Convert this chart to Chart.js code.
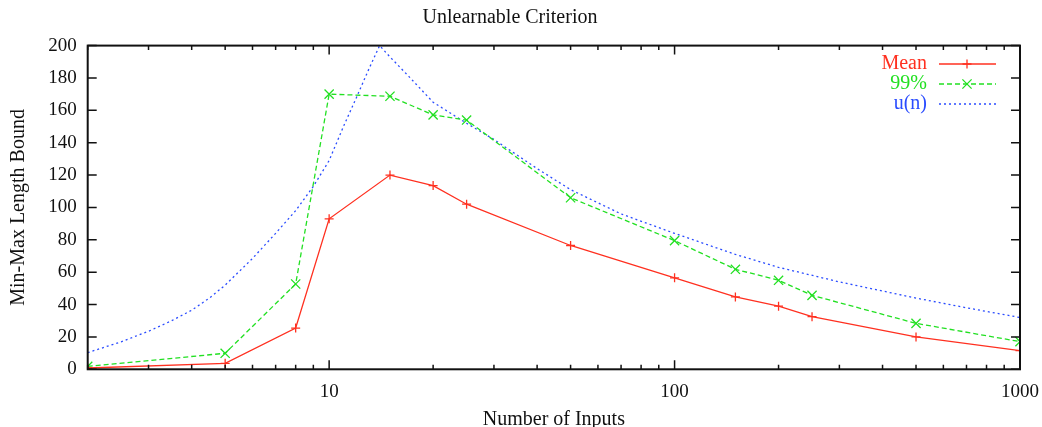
<!DOCTYPE html>
<html>
<head>
<meta charset="utf-8">
<title>Unlearnable Criterion</title>
<script src="https://cdn.jsdelivr.net/npm/chart.js@4.4.0/dist/chart.umd.min.js"></script>
<style>
  html, body { margin: 0; padding: 0; background: #fff; }
  canvas { display: block; }
</style>
</head>
<body>
<canvas id="unlearnableChart" width="1042" height="427"></canvas>
<script>
// number of inputs where the bounds were measured
const inputs = [2, 5, 8, 10, 15, 20, 25, 50, 100, 150, 200, 250, 500, 1000];
const meanBound = [0.8, 3.7, 25.5, 93, 120, 113.5, 102, 76.5, 56.5, 44.7, 39, 32.5, 20, 11.5];
const pct99Bound = [1.8, 9.9, 52.7, 170, 168.7, 157.2, 154, 106, 79.5, 61.8, 55, 45.7, 28.4, 17.1];

// u(n) curve
const uInputs = [2, 2.5, 3, 3.5, 4, 4.5, 5, 6, 7, 8, 9, 10, 11, 12, 13, 14, 15, 17, 20, 25, 30, 40, 50, 70, 100, 150, 200, 300, 500, 700, 1000];
const uBound = [10.3, 17, 23.5, 30, 36.5, 44, 52, 68.5, 84, 98, 113, 129, 150, 168, 185, 200, 193, 181, 165, 152, 142, 124, 111, 96, 84, 71, 63, 54, 44, 38, 32];

const yTicks = [0, 20, 40, 60, 80, 100, 120, 140, 160, 180, 200];
const xTicks = [2, 3, 4, 5, 6, 7, 8, 9, 10, 20, 30, 40, 50, 60, 70, 80, 90, 100,
  200, 300, 400, 500, 600, 700, 800, 900, 1000];
const xLabelled = [10, 100, 1000];

const serif = '"Liberation Serif", "Times New Roman", serif';
Chart.defaults.font.family = serif;
Chart.defaults.color = '#111';

const toPoints = (xs, ys) => xs.map((x, i) => ({ x: x, y: ys[i] }));

// gnuplot style frame with inward ticks on all four sides
const frameTicks = {
  id: 'frameTicks',
  afterDraw(chart) {
    const { ctx, chartArea: a, scales: { x, y } } = chart;
    ctx.save();
    ctx.strokeStyle = '#111';
    ctx.lineWidth = 1.5;
    ctx.beginPath();
    yTicks.forEach(v => {
      const py = y.getPixelForValue(v);
      ctx.moveTo(a.left, py); ctx.lineTo(a.left + 9, py);
      ctx.moveTo(a.right, py); ctx.lineTo(a.right - 9, py);
    });
    xTicks.forEach(v => {
      const px = x.getPixelForValue(v);
      const len = xLabelled.includes(v) ? 9 : 4.5;
      ctx.moveTo(px, a.bottom); ctx.lineTo(px, a.bottom - len);
      ctx.moveTo(px, a.top); ctx.lineTo(px, a.top + len);
    });
    ctx.stroke();
    ctx.lineWidth = 2;
    ctx.strokeRect(a.left, a.top, a.right - a.left, a.bottom - a.top);
    ctx.restore();
  }
};

// key in the top right corner, text on the left of the sample line
const sideLegend = {
  id: 'sideLegend',
  afterDraw(chart) {
    const ctx = chart.ctx;
    const textRight = 927, lineStart = 939, lineEnd = 996;
    ctx.save();
    ctx.font = '20px ' + serif;
    ctx.textAlign = 'right';
    ctx.textBaseline = 'middle';
    chart.data.datasets.forEach((ds, i) => {
      const yy = 64 + i * 20;
      ctx.fillStyle = ds.borderColor;
      ctx.fillText(ds.label, textRight, yy);
      ctx.strokeStyle = ds.borderColor;
      ctx.lineWidth = ds.borderWidth;
      ctx.setLineDash(ds.borderDash || []);
      ctx.beginPath();
      ctx.moveTo(lineStart, yy);
      ctx.lineTo(lineEnd, yy);
      ctx.stroke();
      ctx.setLineDash([]);
      if (ds.pointRadius > 0) {
        Chart.helpers.drawPoint(ctx, {
          pointStyle: ds.pointStyle, radius: ds.pointRadius, rotation: 0, borderWidth: ds.borderWidth
        }, (lineStart + lineEnd) / 2 - 0.5, yy);
      }
    });
    ctx.restore();
  }
};

new Chart(document.getElementById('unlearnableChart'), {
  type: 'line',
  data: {
    datasets: [
      {
        label: 'Mean',
        data: toPoints(inputs, meanBound),
        borderColor: '#ff3020',
        borderWidth: 1.3,
        pointStyle: 'cross',
        pointRadius: 4.5,
        pointBorderWidth: 1.3,
        fill: false,
        tension: 0
      },
      {
        label: '99%',
        data: toPoints(inputs, pct99Bound),
        borderColor: '#22e022',
        borderWidth: 1.3,
        borderDash: [5, 3],
        pointStyle: 'crossRot',
        pointRadius: 6.5,
        pointBorderWidth: 1.3,
        fill: false,
        tension: 0
      },
      {
        label: 'u(n)',
        data: toPoints(uInputs, uBound),
        borderColor: '#2a4cff',
        borderWidth: 1.3,
        borderDash: [2, 3],
        pointRadius: 0,
        fill: false,
        tension: 0
      }
    ]
  },
  options: {
    responsive: false,
    animation: false,
    layout: { padding: { top: 0, right: 22, bottom: 0, left: 0 } },
    plugins: {
      legend: { display: false },
      tooltip: { enabled: false },
      title: {
        display: true,
        text: 'Unlearnable Criterion',
        color: '#111',
        font: { size: 20, weight: 'normal' },
        padding: { top: 6, bottom: 15.6 }
      }
    },
    scales: {
      x: {
        type: 'logarithmic',
        min: 2,
        max: 1000,
        grid: { display: false, drawTicks: false },
        border: { display: false },
        afterBuildTicks: scale => { scale.ticks = xTicks.map(v => ({ value: v })); },
        afterFit: scale => {
          scale.height = 57.7;
          scale.paddingLeft = 0;
          scale.paddingRight = 0;
        },
        ticks: {
          autoSkip: false,
          maxRotation: 0,
          padding: 11,
          font: { size: 19 },
          callback: v => xLabelled.includes(v) ? String(v) : ''
        },
        title: {
          display: true,
          text: 'Number of Inputs',
          font: { size: 20, lineHeight: 0.7 },
          padding: { top: 0, bottom: 0 }
        }
      },
      y: {
        min: 0,
        max: 200,
        grid: { display: false, drawTicks: false },
        border: { display: false },
        afterBuildTicks: scale => { scale.ticks = yTicks.map(v => ({ value: v })); },
        afterFit: scale => {
          scale.width = 87.7;
          scale.paddingTop = 0;
          scale.paddingBottom = 0;
        },
        ticks: { padding: 11, font: { size: 19 } },
        title: {
          display: true,
          text: 'Min-Max Length Bound',
          font: { size: 20 },
          padding: { top: 7, bottom: 0 }
        }
      }
    }
  },
  plugins: [frameTicks, sideLegend]
});
</script>
</body>
</html>
